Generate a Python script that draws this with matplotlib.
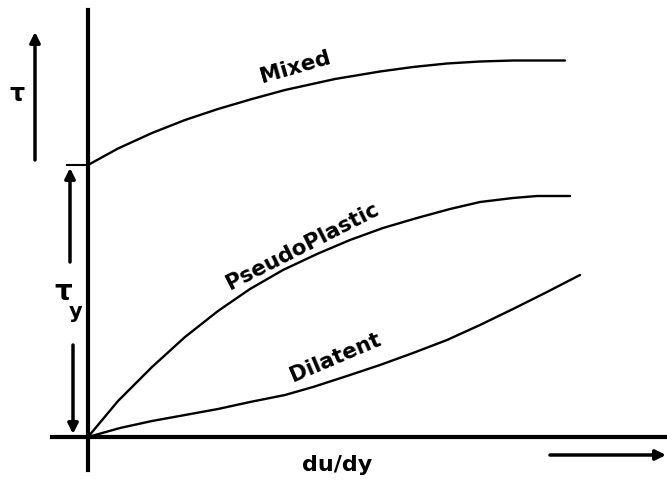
import matplotlib
matplotlib.use("Agg")
import matplotlib.pyplot as plt

plt.rcParams['font.family'] = ['DejaVu Sans']

# Shear rate (du/dy) vs shear stress (tau), schematic units
mixed_x = [0, 0.6, 1.28, 1.94, 2.6, 3.28, 3.94, 4.94, 5.84, 6.5, 7.18, 7.84, 8.5, 9.54]
mixed_y = [5.44, 5.77, 6.08, 6.34, 6.56, 6.76, 6.94, 7.16, 7.31, 7.4, 7.47, 7.51, 7.53, 7.53]

pseudo_x = [0, 0.6, 1.28, 1.94, 2.6, 3.24, 3.9, 4.58, 5.24, 5.9, 6.58, 7.24, 7.84, 8.5, 8.98, 9.64]
pseudo_y = [0, 0.72, 1.4, 2.0, 2.52, 2.96, 3.34, 3.66, 3.94, 4.18, 4.38, 4.56, 4.7, 4.78, 4.82, 4.82]

dil_x = [0, 0.64, 1.28, 1.94, 2.6, 3.24, 3.94, 4.5, 5.18, 5.84, 6.5, 7.18, 7.84, 8.5, 9.18, 9.84]
dil_y = [0, 0.18, 0.32, 0.44, 0.56, 0.7, 0.84, 1.0, 1.22, 1.44, 1.68, 1.94, 2.24, 2.56, 2.9, 3.24]

curve_labels = ["Mixed", "PseudoPlastic", "Dilatent"]
x_label = "du/dy"
y_label = "τ"
yield_label = "τ"
yield_sub = "y"

fig = plt.figure(figsize=(6.67, 4.83), dpi=100)
ax = fig.add_axes([0, 0, 1, 1])
ax.set_xlim(-1.76, 11.58)
ax.set_ylim(-0.92, 8.74)
ax.axis('off')

# axes lines
ax.plot([0, 0], [-0.66, 8.54], color='black', lw=3)
ax.plot([-0.72, 11.54], [0, 0], color='black', lw=3)
# yield tick
ax.plot([-0.42, 0], [mixed_y[0], mixed_y[0]], color='black', lw=1.5)

lw = 1.7
for xs, ys in [(mixed_x, mixed_y), (pseudo_x, pseudo_y), (dil_x, dil_y)]:
    ax.plot(xs, ys, color='black', lw=lw, solid_joinstyle='round', solid_capstyle='round')

fs = 15.5
ax.text(4.14, 7.4, curve_labels[0], rotation=16, ha='center', va='center',
        fontsize=fs, fontweight='bold')
ax.text(4.3, 3.82, curve_labels[1], rotation=27, ha='center', va='center',
        fontsize=fs, fontweight='bold')
ax.text(4.94, 1.58, curve_labels[2], rotation=23, ha='center', va='center',
        fontsize=fs, fontweight='bold')

arrow_kw = dict(arrowstyle='-|>,head_width=0.3,head_length=0.6', color='black', lw=2.5,
                shrinkA=0, shrinkB=0)
# tau arrow
ax.annotate('', xy=(-1.06, 8.1), xytext=(-1.06, 5.54), arrowprops=arrow_kw)
ax.text(-1.42, 6.86, y_label, fontsize=17, fontweight='bold', ha='center', va='center')
# tau_y arrows
ax.annotate('', xy=(-0.36, 5.38), xytext=(-0.36, 3.5), arrowprops=arrow_kw)
ax.annotate('', xy=(-0.3, 0.06), xytext=(-0.3, 1.84), arrowprops=arrow_kw)
ax.text(-0.5, 2.9, yield_label, fontsize=20, fontweight='bold', ha='center', va='center')
ax.text(-0.24, 2.5, yield_sub, fontsize=15, fontweight='bold', ha='center', va='center')

# x label and arrow
ax.text(4.98, -0.56, x_label, fontsize=16, fontweight='bold', ha='center', va='center')
ax.annotate('', xy=(11.56, -0.36), xytext=(9.24, -0.36), arrowprops=arrow_kw)

fig.savefig('out.png', dpi=100)
